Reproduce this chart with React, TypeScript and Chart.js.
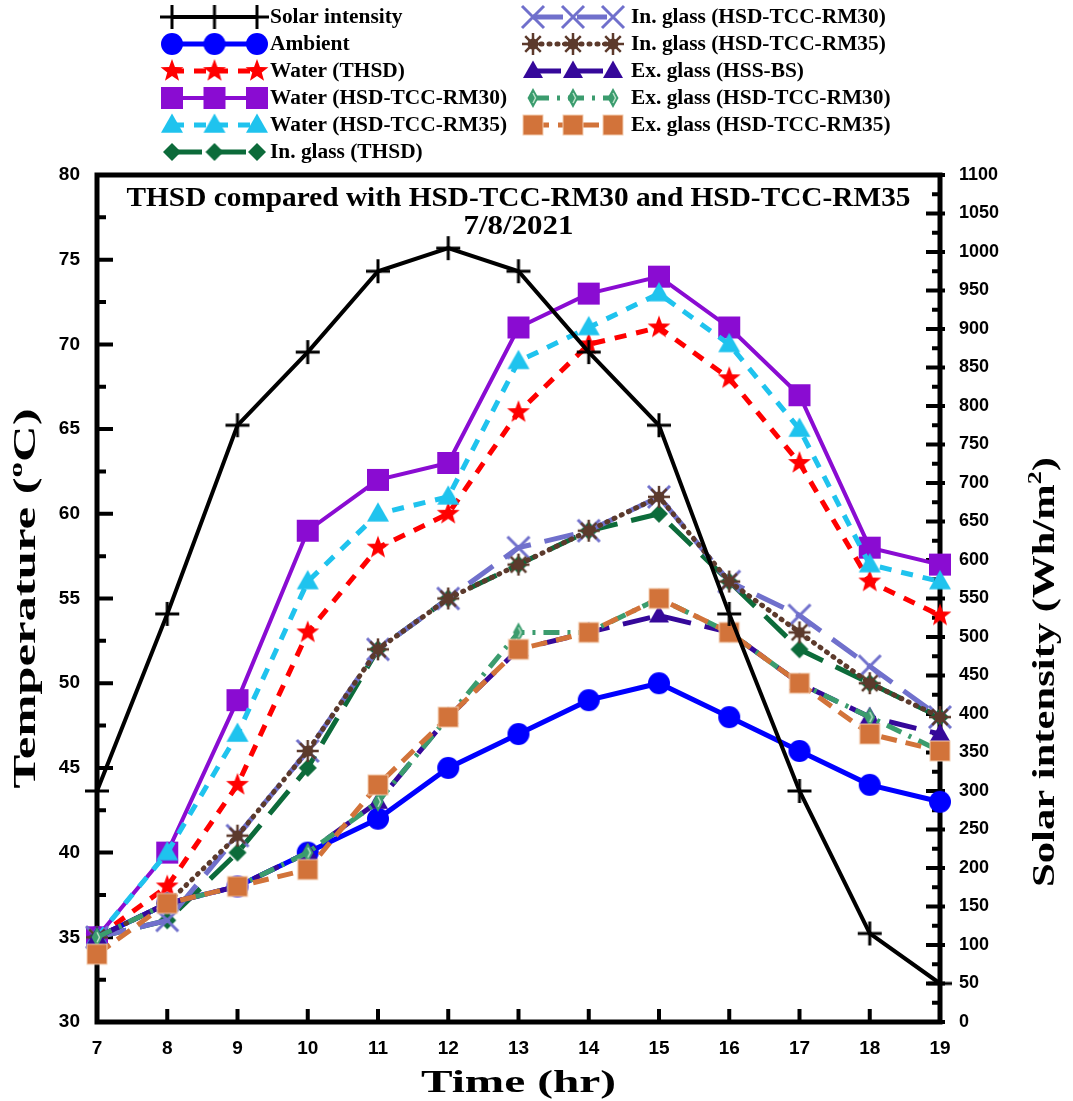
import React, { useEffect, useRef } from "react";
import { Chart, registerables } from "chart.js";

Chart.register(...registerables);

// ---------------- data ----------------
const hours = [7, 8, 9, 10, 11, 12, 13, 14, 15, 16, 17, 18, 19];
const solarIntensity = [300, 530, 775, 870, 975, 1005, 975, 870, 775, 530, 300, 115, 50];
const ambient = [35, 37, 38, 40, 42, 45, 47, 49, 50, 48, 46, 44, 43];
const waterTHSD = [35, 38, 44, 53, 58, 60, 66, 70, 71, 68, 63, 56, 54];
const waterRM30 = [35, 40, 49, 59, 62, 63, 71, 73, 74, 71, 67, 58, 57];
const waterRM35 = [35, 40, 47, 56, 60, 61, 69, 71, 73, 70, 65, 57, 56];
const inGlassTHSD = [35, 36, 40, 45, 52, 55, 57, 59, 60, 56, 52, 50, 48];
const inGlassRM30 = [35, 36, 41, 46, 52, 55, 58, 59, 61, 56, 54, 51, 48];
const inGlassRM35 = [35, 37, 41, 46, 52, 55, 57, 59, 61, 56, 53, 50, 48];
const exGlassHSSBS = [35, 37, 38, 40, 43, 48, 52, 53, 54, 53, 50, 48, 47];
const exGlassRM30 = [35, 37, 38, 40, 43, 48, 53, 53, 55, 53, 50, 48, 46];
const exGlassRM35 = [34, 37, 38, 39, 44, 48, 52, 53, 55, 53, 50, 47, 46];

const seriesLabels = [
  "Solar intensity",
  "Ambient",
  "Water (THSD)",
  "Water (HSD-TCC-RM30)",
  "Water (HSD-TCC-RM35)",
  "In. glass (THSD)",
  "In. glass (HSD-TCC-RM30)",
  "In. glass (HSD-TCC-RM35)",
  "Ex. glass (HSS-BS)",
  "Ex. glass (HSD-TCC-RM30)",
  "Ex. glass (HSD-TCC-RM35)",
];
const seriesValues = [
  solarIntensity, ambient, waterTHSD, waterRM30, waterRM35, inGlassTHSD,
  inGlassRM30, inGlassRM35, exGlassHSSBS, exGlassRM30, exGlassRM35,
];

const chartTitle = "THSD compared with HSD-TCC-RM30 and HSD-TCC-RM35";
const chartDate = "7/8/2021";

// ---------------- markers ----------------
function mk(size: number, draw: (g: CanvasRenderingContext2D) => void) {
  const c = document.createElement("canvas");
  c.width = size;
  c.height = size;
  const g = c.getContext("2d")!;
  g.translate(size / 2, size / 2);
  draw(g);
  return c;
}
function star(color: string, R: number, r: number) {
  return mk(Math.ceil(R * 2 + 4), (g) => {
    g.fillStyle = color;
    g.beginPath();
    for (let i = 0; i < 10; i++) {
      const a = -Math.PI / 2 + (i * Math.PI) / 5;
      const rr = i % 2 === 0 ? R : r;
      const px = Math.cos(a) * rr, py = Math.sin(a) * rr;
      i === 0 ? g.moveTo(px, py) : g.lineTo(px, py);
    }
    g.closePath();
    g.fill();
  });
}
function square(color: string, side: number, border?: string) {
  return mk(side + 4, (g) => {
    g.fillStyle = color;
    g.fillRect(-side / 2, -side / 2, side, side);
    if (border) {
      g.strokeStyle = border;
      g.lineWidth = 1;
      g.strokeRect(-side / 2, -side / 2, side, side);
    }
  });
}
function triangle(color: string, w: number) {
  return mk(w + 4, (g) => {
    const h = w * 0.87;
    g.fillStyle = color;
    g.beginPath();
    g.moveTo(0, -h * 0.6);
    g.lineTo(w / 2, h * 0.4);
    g.lineTo(-w / 2, h * 0.4);
    g.closePath();
    g.fill();
  });
}
function diamond(color: string, w: number, h: number, inner?: string) {
  return mk(Math.max(w, h) + 4, (g) => {
    g.fillStyle = color;
    g.beginPath();
    g.moveTo(0, -h / 2);
    g.lineTo(w / 2, 0);
    g.lineTo(0, h / 2);
    g.lineTo(-w / 2, 0);
    g.closePath();
    g.fill();
    if (inner) {
      g.strokeStyle = inner;
      g.lineWidth = 1.5;
      g.beginPath();
      g.moveTo(0, -h / 2 + 5);
      g.lineTo(w / 2 - 3, 0);
      g.lineTo(0, h / 2 - 5);
      g.stroke();
    }
  });
}
function xmark(color: string, s: number, lw: number) {
  return mk(s * 2 + 6, (g) => {
    g.strokeStyle = color;
    g.lineWidth = lw;
    g.beginPath();
    g.moveTo(-s, -s); g.lineTo(s, s);
    g.moveTo(s, -s); g.lineTo(-s, s);
    g.stroke();
  });
}
function plus(color: string, s: number, lw: number) {
  return mk(s * 2 + 6, (g) => {
    g.strokeStyle = color;
    g.lineWidth = lw;
    g.beginPath();
    g.moveTo(-s, 0); g.lineTo(s, 0);
    g.moveTo(0, -s); g.lineTo(0, s);
    g.stroke();
  });
}
function circle(color: string, r: number) {
  return mk(r * 2 + 4, (g) => {
    g.fillStyle = color;
    g.beginPath();
    g.arc(0, 0, r, 0, Math.PI * 2);
    g.fill();
  });
}
function asterisk(color: string, s: number) {
  return mk(s * 2 + 6, (g) => {
    g.strokeStyle = color;
    g.lineWidth = 2.5;
    g.beginPath();
    for (let i = 0; i < 8; i++) {
      const a = (i * Math.PI) / 4;
      g.moveTo(0, 0);
      g.lineTo(Math.cos(a) * s, Math.sin(a) * s);
    }
    g.stroke();
    g.fillStyle = color;
    g.beginPath();
    g.arc(0, 0, s * 0.5, 0, Math.PI * 2);
    g.fill();
  });
}

type Style = { color: string; width: number; dash: number[]; cap?: CanvasLineCap; marker: () => HTMLCanvasElement };
const seriesStyles: Style[] = [
  { color: "#000000", width: 4, dash: [], marker: () => plus("#000000", 12, 3) },
  { color: "#0000FF", width: 5, dash: [], marker: () => circle("#0000FF", 11) },
  { color: "#FF0000", width: 5, dash: [12, 10], marker: () => star("#FF0000", 12, 5) },
  { color: "#8A0CD2", width: 4, dash: [], marker: () => square("#8A0CD2", 22) },
  { color: "#1FC3EE", width: 5, dash: [12, 10], marker: () => triangle("#1FC3EE", 22) },
  { color: "#0C6B3A", width: 5, dash: [30, 14], marker: () => diamond("#0C6B3A", 18, 18) },
  { color: "#7070CC", width: 5, dash: [30, 14], marker: () => xmark("#7070CC", 11, 3) },
  { color: "#5C3A2C", width: 5, dash: [1, 7], cap: "round", marker: () => asterisk("#5C3A2C", 11) },
  { color: "#35089A", width: 5, dash: [28, 14], marker: () => triangle("#35089A", 20) },
  { color: "#3B9C6E", width: 5, dash: [16, 8, 3, 8], marker: () => diamond("#3B9C6E", 11, 20, "#B8E0C8") },
  { color: "#D2733A", width: 5, dash: [16, 9], marker: () => square("#D2733A", 20, "#F3CDB0") },
];

// ---------------- text helper ----------------
type Part = { t: string; sup?: boolean };
function drawRich(
  ctx: CanvasRenderingContext2D, parts: Part[], cx: number, cy: number,
  size: number, targetW: number, rot = 0
) {
  ctx.save();
  ctx.translate(cx, cy);
  if (rot) ctx.rotate(rot);
  const main = `bold ${size}px "Liberation Serif", "Times New Roman", serif`;
  const small = `bold ${Math.round(size * 0.62)}px "Liberation Serif", "Times New Roman", serif`;
  let w = 0;
  for (const p of parts) { ctx.font = p.sup ? small : main; w += ctx.measureText(p.t).width; }
  const sx = targetW > 0 ? targetW / w : 1;
  ctx.scale(sx, 1);
  let x = -w / 2;
  ctx.textBaseline = "middle";
  ctx.textAlign = "left";
  ctx.fillStyle = "#000";
  for (const p of parts) {
    ctx.font = p.sup ? small : main;
    ctx.fillText(p.t, x, p.sup ? -size * 0.33 : 0);
    x += ctx.measureText(p.t).width;
  }
  ctx.restore();
}

export default function App() {
  const ref = useRef<HTMLCanvasElement | null>(null);

  useEffect(() => {
    document.body.style.margin = "0";
    const canvas = ref.current!;
    const markers = seriesStyles.map((s) => s.marker());
    const N = seriesLabels.length;

    const datasets = seriesLabels.map((label, i) => {
      const st = seriesStyles[i];
      return {
        label,
        data: hours.map((h, k) => ({ x: h, y: seriesValues[i][k] })),
        yAxisID: i === 0 ? "y1" : "y",
        borderColor: st.color,
        backgroundColor: st.color,
        borderWidth: st.width,
        borderDash: st.dash,
        borderCapStyle: st.cap || "butt",
        pointStyle: markers[i] as any,
        pointRadius: 10,
        pointHoverRadius: 10,
        tension: 0,
        fill: false,
        clip: false as any,
        order: i === 0 ? 0 : N - i,
      };
    });

    const decor = {
      id: "decor",
      beforeDatasetsDraw(chart: any) {
        const ctx: CanvasRenderingContext2D = chart.ctx;
        const { left, right, top, bottom } = chart.chartArea;
        const yL = chart.scales.y, yR = chart.scales.y1, xs = chart.scales.x;
        ctx.save();
        ctx.strokeStyle = "#000";
        ctx.lineWidth = 5;
        ctx.strokeRect(left, top, right - left, bottom - top);
        ctx.lineWidth = 4;
        ctx.beginPath();
        for (let v = 30; v <= 80; v += 2.5) {
          const py = yL.getPixelForValue(v);
          const len = v % 5 === 0 ? 16 : 9;
          ctx.moveTo(left, py); ctx.lineTo(left + len, py);
        }
        for (let v = 0; v <= 1100; v += 25) {
          const py = yR.getPixelForValue(v);
          const major = v % 50 === 0;
          ctx.moveTo(right - (major ? 14 : 8), py);
          ctx.lineTo(right + (major ? 5 : 0), py);
        }
        for (let h = 7; h <= 19; h++) {
          const px = xs.getPixelForValue(h);
          ctx.moveTo(px, bottom); ctx.lineTo(px, bottom - 13);
        }
        ctx.stroke();
        ctx.restore();
      },
      afterDraw(chart: any) {
        const ctx: CanvasRenderingContext2D = chart.ctx;
        const { left, right, top, bottom } = chart.chartArea;
        const cxp = (left + right) / 2;
        ctx.save();
        // chart title
        drawRich(ctx, [{ t: chartTitle }], cxp, top + 24, 27, 784);
        drawRich(ctx, [{ t: chartDate }], cxp, top + 52, 27, 110);
        // axis titles
        drawRich(ctx, [{ t: "Time (hr)" }], cxp, bottom + 62, 32, 195);
        drawRich(ctx, [{ t: "Temperature (" }, { t: "o", sup: true }, { t: "C)" }], 27, (top + bottom) / 2, 31, 380, -Math.PI / 2);
        drawRich(ctx, [{ t: "Solar intensity (Wh/m" }, { t: "2", sup: true }, { t: ")" }], 1046, 672, 31, 430, -Math.PI / 2);

        // legend
        const rowY = (r: number) => 17 + r * 27;
        const cols = [
          { x0: 172, x1: 257, tx: 270 },
          { x0: 533, x1: 613, tx: 631 },
        ];
        ctx.font = `bold 20px "Liberation Serif", serif`;
        const refW = ctx.measureText("Water (HSD-TCC-RM30)").width;
        const fx = 237 / refW;
        seriesLabels.forEach((label, i) => {
          const col = i < 6 ? cols[0] : cols[1];
          const r = i < 6 ? i : i - 6;
          const y = rowY(r);
          const st = seriesStyles[i];
          ctx.save();
          ctx.strokeStyle = st.color;
          ctx.lineWidth = st.width;
          ctx.setLineDash(st.dash);
          ctx.lineCap = st.cap || "butt";
          ctx.beginPath();
          ctx.moveTo(col.x0, y);
          ctx.lineTo(col.x1, y);
          ctx.stroke();
          ctx.restore();
          const m = markers[i];
          const mid = (col.x0 + col.x1) / 2;
          [col.x0, mid, col.x1].forEach((mx) => ctx.drawImage(m, mx - m.width / 2, y - m.height / 2));
          ctx.save();
          ctx.translate(col.tx, y);
          ctx.scale(fx, 1);
          ctx.font = `bold 20px "Liberation Serif", serif`;
          ctx.fillStyle = "#000";
          ctx.textBaseline = "middle";
          ctx.textAlign = "left";
          ctx.fillText(label, 0, 1);
          ctx.restore();
        });
        ctx.restore();
      },
    };

    const tickFont = { family: '"Liberation Sans", Arial, sans-serif', size: 19, weight: "bold" as const };
    const plain = (v: any) => String(v);

    const chart = new Chart(canvas, {
      type: "line",
      data: { datasets: datasets as any },
      options: {
        responsive: false,
        animation: false,
        devicePixelRatio: 1,
        layout: { padding: { top: 175, left: 0, right: 0, bottom: 0 } },
        plugins: { legend: { display: false }, title: { display: false }, tooltip: { enabled: false } },
        events: [],
        scales: {
          x: {
            type: "linear",
            min: 7,
            max: 19,
            grid: { display: false },
            border: { display: false },
            ticks: { stepSize: 1, font: tickFont, color: "#000", padding: 7, maxRotation: 0, callback: plain },
            afterFit: (s: any) => { s.height = 79; },
          },
          y: {
            type: "linear",
            position: "left",
            min: 30,
            max: 80,
            grid: { display: false },
            border: { display: false },
            ticks: { stepSize: 5, font: tickFont, color: "#000", padding: 9, callback: plain },
            afterFit: (s: any) => { s.width = 97; },
          },
          y1: {
            type: "linear",
            position: "right",
            min: 0,
            max: 1100,
            grid: { display: false },
            border: { display: false },
            ticks: { stepSize: 50, font: { ...tickFont, size: 18 }, color: "#000", padding: 11, callback: plain },
            afterFit: (s: any) => { s.width = 133; },
          },
        },
      },
      plugins: [decor],
    });
    return () => chart.destroy();
  }, []);

  return <canvas ref={ref} width={1073} height={1101} style={{ display: "block" }} />;
}
